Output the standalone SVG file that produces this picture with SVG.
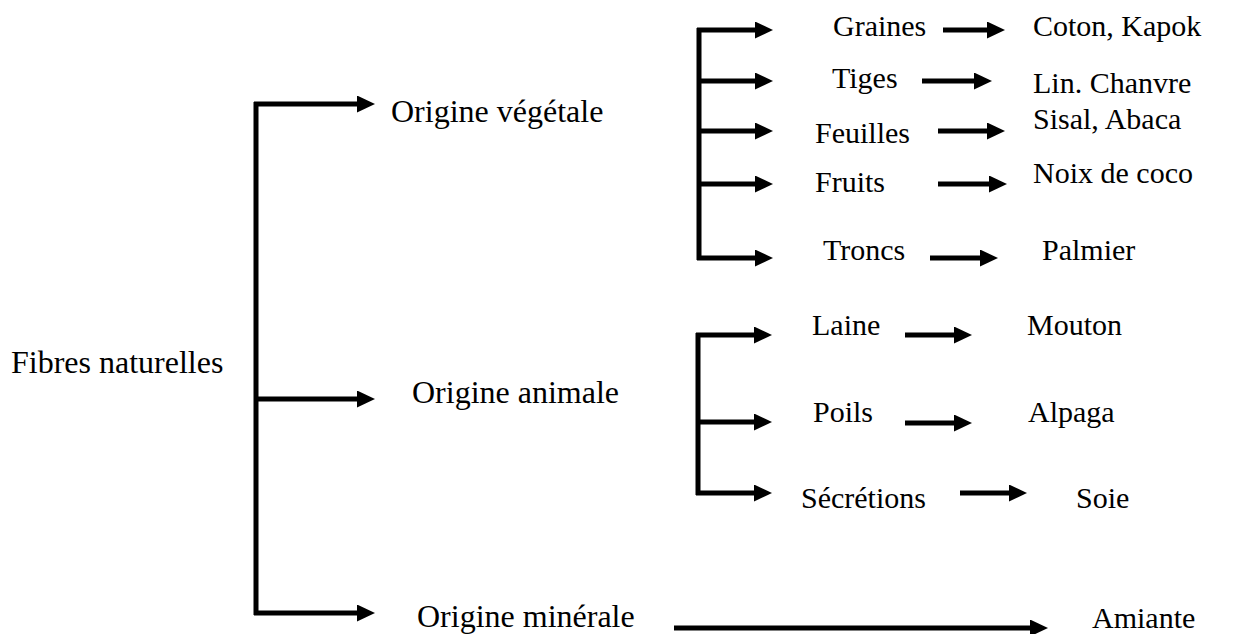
<svg xmlns="http://www.w3.org/2000/svg" width="1234" height="634" viewBox="0 0 1234 634">
<defs>
<marker id="ah" viewBox="0 0 18 17" refX="0" refY="8.5" markerWidth="18" markerHeight="17" markerUnits="userSpaceOnUse" orient="auto">
<polygon points="0,0 18,8.5 0,17" fill="#000"/>
</marker>
</defs>
<style>
text{font-family:"Liberation Serif","Times New Roman",serif;font-size:30px;fill:#000}
.big{font-size:32px}
.c{fill:none;stroke:#000;stroke-width:5}
.a{fill:none;stroke:#000;stroke-width:5;marker-end:url(#ah)}
</style>
<rect width="1234" height="634" fill="#fff"/>
<g id="connectors">
<path class="c" d="M256,102 V615"/>
<path class="a" d="M254,104 H357"/>
<path class="a" d="M256,399 H357"/>
<path class="a" d="M254,613 H357"/>
<path class="c" d="M699,28 V260"/>
<path class="a" d="M697,30 H755"/>
<path class="a" d="M699,81 H755"/>
<path class="a" d="M699,131 H755"/>
<path class="a" d="M699,184 H755"/>
<path class="a" d="M697,258 H755"/>
<path class="a" d="M943,30 H987"/>
<path class="a" d="M922,81 H974"/>
<path class="a" d="M938,131 H987"/>
<path class="a" d="M938,184 H989"/>
<path class="a" d="M930,258 H980"/>
<path class="c" d="M698,333 V495"/>
<path class="a" d="M696,335 H754"/>
<path class="a" d="M698,422 H754"/>
<path class="a" d="M696,493 H754"/>
<path class="a" d="M905,335 H954"/>
<path class="a" d="M905,423 H954"/>
<path class="a" d="M960,493 H1009"/>
<path class="a" d="M674,628 H1030"/>
</g>
<g id="n-root"><text class="big" x="11" y="373">Fibres naturelles</text></g>
<g id="n-veg"><text class="big" x="391" y="122">Origine végétale</text></g>
<g id="n-ani"><text class="big" x="412" y="403">Origine animale</text></g>
<g id="n-min"><text class="big" x="417" y="627">Origine minérale</text></g>
<g id="n-graines"><text x="833" y="36">Graines</text></g>
<g id="n-coton"><text x="1033" y="36">Coton, Kapok</text></g>
<g id="n-tiges"><text x="832" y="88">Tiges</text></g>
<g id="n-lin"><text x="1033" y="93">Lin. Chanvre</text></g>
<g id="n-feuilles"><text x="815" y="143">Feuilles</text></g>
<g id="n-sisal"><text x="1033" y="129">Sisal, Abaca</text></g>
<g id="n-fruits"><text x="815" y="192">Fruits</text></g>
<g id="n-noix"><text x="1033" y="183">Noix de coco</text></g>
<g id="n-troncs"><text x="823" y="260">Troncs</text></g>
<g id="n-palmier"><text x="1042" y="260">Palmier</text></g>
<g id="n-laine"><text x="812" y="335">Laine</text></g>
<g id="n-mouton"><text x="1027" y="335">Mouton</text></g>
<g id="n-poils"><text x="813" y="422">Poils</text></g>
<g id="n-alpaga"><text x="1028" y="422">Alpaga</text></g>
<g id="n-secretions"><text x="801" y="508">Sécrétions</text></g>
<g id="n-soie"><text x="1076" y="508">Soie</text></g>
<g id="n-amiante"><text x="1092" y="628">Amiante</text></g>
</svg>
